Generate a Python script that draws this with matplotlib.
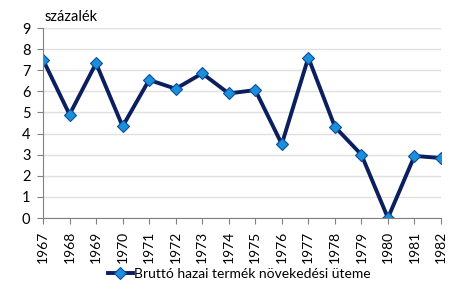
import matplotlib.pyplot as plt

# Data
years = [str(y) for y in range(1967, 1983)]
growth = [7.5, 4.9, 7.33, 4.34, 6.54, 6.12, 6.85, 5.9, 6.06, 3.5, 7.6, 4.32, 3.0, 0.0, 2.94, 2.84]
series_name = "Bruttó hazai termék növekedési üteme"

plt.rcParams['font.family'] = ['Lato', 'DejaVu Sans']

fig = plt.figure(figsize=(4.74, 2.95), dpi=100)
ax = fig.add_axes([43 / 474, 1 - 218 / 295, 398 / 474, 190 / 295])

ax.plot(range(len(years)), growth, color='#0b1f5e', linewidth=2.8,
        marker='D', markersize=6.5, markerfacecolor='#1b8fd8',
        markeredgecolor='#0b4f9e', markeredgewidth=0.8, label=series_name)

ax.set_xlim(0, len(years) - 1)
ax.set_ylim(0, 9)
ax.set_yticks(range(0, 10))
ax.set_xticks(range(len(years)))
ax.set_xticklabels(years, rotation=90)
ax.tick_params(axis='both', labelsize=10.5, color='#808080', length=4, direction='out')
ax.tick_params(axis='x', pad=5, labelsize=10)
ax.tick_params(axis='y', pad=5)
ax.grid(axis='y', color='#e0e0e0', linewidth=1)
ax.set_axisbelow(True)
for side in ['top', 'right']:
    ax.spines[side].set_visible(False)
for side in ['left', 'bottom']:
    ax.spines[side].set_color('#808080')

fig.text(45 / 474, 1 - 17 / 295, "százalék", fontsize=10.5, va='center', ha='left')

fig.legend(loc='center', bbox_to_anchor=(0.505, 1 - 274 / 295), frameon=False,
           fontsize=10, handlelength=1.8, handletextpad=0.1)

fig.savefig('out.png', dpi=100)
